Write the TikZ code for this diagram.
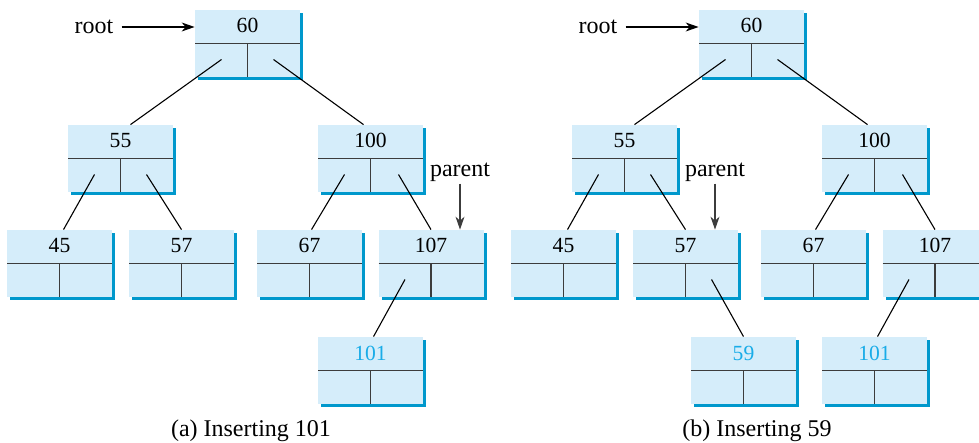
\documentclass[tikz,border=0pt]{standalone}
\usepackage{fontspec}
\setmainfont{Liberation Serif}
\usetikzlibrary{arrows.meta, positioning, shadows, calc}
\usepackage{xcolor}
\definecolor{cellblue}{RGB}{213,237,250}
\definecolor{shadeblue}{RGB}{0,152,204}
\definecolor{newblue}{RGB}{25,172,232}
\definecolor{divgray}{RGB}{60,60,60}

\begin{document}
\begin{tikzpicture}[
  x=0.5pt, y=-0.5pt,
  tnode/.style={rectangle, fill=cellblue, minimum width=52.5pt, inner sep=0pt,
                text height=11.5pt, text depth=22pt, font=\fontsize{10.8}{12}\selectfont,
                drop shadow={shadow xshift=1.5pt, shadow yshift=-1.5pt, fill=shadeblue, opacity=1},
                path picture={\draw[divgray, line width=0.65pt]
                  (path picture bounding box.west) -- (path picture bounding box.east)
                  (path picture bounding box.center) -- (path picture bounding box.south);}},
  newnode/.style={tnode, text=newblue},
  lbl/.style={font=\fontsize{12}{14}\selectfont, inner sep=1pt},
  link/.style={line width=0.55pt},
  ptr/.style={-{Stealth[length=6.5pt, width=4.5pt]}, line width=0.55pt}
]
\useasboundingbox (0,0) rectangle (979,443);

% (a) inserting 101
\node[tnode] (a60) at (247.5,43.5) {60};
\node[tnode] (a55) at (120.5,158.5) {55};
\node[tnode] (a100) at (370.5,158.5) {100};
\node[tnode] (a45) at (59.5,263.5) {45};
\node[tnode] (a57) at (181.5,263.5) {57};
\node[tnode] (a67) at (309.5,263.5) {67};
\node[tnode] (a107) at (431,263.5) {107};
\node[newnode] (a101) at (370.5,370.5) {101};

\node[lbl, inner xsep=4pt] (aroot) at (94,27) {root};
\node[lbl] (apar) at (460,172) {parent};
\node[lbl] (acap) at (251,431) {(a) Inserting 101};

\draw[ptr] (aroot.east) -- (aroot.east -| a60.west);
\draw[ptr, divgray] (apar.south) -- (apar.south |- a107.north);

\draw[link] ($(a60.center)+(-26,16)$) -- ($(a55.north)+(10,0)$);
\draw[link] ($(a60.center)+(26,16)$) -- ($(a100.north)+(-7,0)$);
\draw[link] ($(a55.center)+(-26,16)$) -- ($(a45.north)+(4,0)$);
\draw[link] ($(a55.center)+(26,16)$) -- (a57.north);
\draw[link] ($(a100.center)+(-26,16)$) -- ($(a67.north)+(2,0)$);
\draw[link] ($(a100.center)+(28,16)$) -- (a107.north);
\draw[link] ($(a107.center)+(-26,16)$) -- ($(a101.north)+(3,0)$);

% (b) inserting 59
\begin{scope}[xshift=252pt]
\node[tnode] (b60) at (247.5,43.5) {60};
\node[tnode] (b55) at (120.5,158.5) {55};
\node[tnode] (b100) at (370.5,158.5) {100};
\node[tnode] (b45) at (59.5,263.5) {45};
\node[tnode] (b57) at (181.5,263.5) {57};
\node[tnode] (b67) at (309.5,263.5) {67};
\node[tnode] (b107) at (431,263.5) {107};
\node[newnode] (b59) at (239.5,370.5) {59};
\node[newnode] (b101) at (370.5,370.5) {101};

\node[lbl, inner xsep=4pt] (broot) at (94,27) {root};
\node[lbl] (bpar) at (211,172) {parent};
\node[lbl] (bcap) at (253,431) {(b) Inserting 59};
\end{scope}

\draw[ptr] (broot.east) -- (broot.east -| b60.west);
\draw[ptr, divgray] (bpar.south) -- (bpar.south |- b57.north);

\draw[link] ($(b60.center)+(-26,16)$) -- ($(b55.north)+(10,0)$);
\draw[link] ($(b60.center)+(26,16)$) -- ($(b100.north)+(-7,0)$);
\draw[link] ($(b55.center)+(-26,16)$) -- ($(b45.north)+(4,0)$);
\draw[link] ($(b55.center)+(26,16)$) -- (b57.north);
\draw[link] ($(b57.center)+(26,16)$) -- (b59.north);
\draw[link] ($(b100.center)+(-26,16)$) -- ($(b67.north)+(2,0)$);
\draw[link] ($(b100.center)+(28,16)$) -- (b107.north);
\draw[link] ($(b107.center)+(-26,16)$) -- ($(b101.north)+(3,0)$);

\end{tikzpicture}
\end{document}
